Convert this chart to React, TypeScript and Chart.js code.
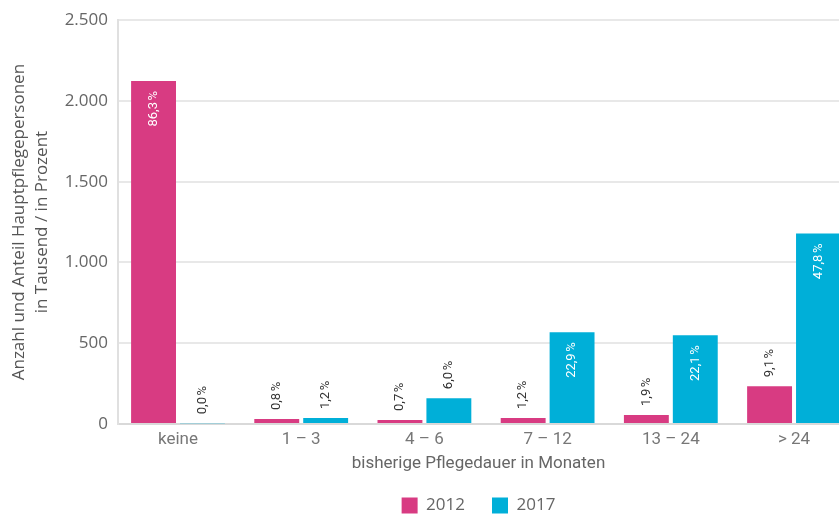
import React, { useEffect, useRef } from 'react';
import { Chart, registerables } from 'chart.js';

Chart.register(...registerables);

const categories = ['keine', '1 – 3', '4 – 6', '7 – 12', '13 – 24', '> 24'];
const seriesLabels = ['2012', '2017'];
const values2012 = [2124, 31, 25, 37, 56, 234];
const values2017 = [5, 37, 160, 568, 549, 1179];
const shares2012 = [86.3, 0.8, 0.7, 1.2, 1.9, 9.1];
const shares2017 = [0.0, 1.2, 6.0, 22.9, 22.1, 47.8];
const yTicks = [0, 500, 1000, 1500, 2000, 2500];
const yTitle = ['Anzahl und Anteil Hauptpflegepersonen', 'in Tausend / in Prozent'];
const xTitle = 'bisherige Pflegedauer in Monaten';

const colors = ['#d83b82', '#00afd8'];

const fmtThousands = (v: number) => String(v).replace(/\B(?=(\d{3})+(?!\d))/g, '.');

const shareLabels = {
  id: 'shareLabels',
  afterDatasetsDraw(chart: any) {
    const ctx = chart.ctx;
    const shares = [shares2012, shares2017];
    chart.data.datasets.forEach((_ds: any, di: number) => {
      const meta = chart.getDatasetMeta(di);
      meta.data.forEach((bar: any, i: number) => {
        const { x, y, base } = bar.getProps(['x', 'y', 'base'], true);
        if (x > chart.width) return;
        const inside = base - y > 60;
        const text = shares[di][i].toFixed(1).replace('.', ',') + '\u202F%';
        ctx.save();
        ctx.translate(x, inside ? y + 10 : y - 9);
        ctx.rotate(-Math.PI / 2);
        ctx.font = '13px Roboto';
        ctx.fillStyle = inside ? '#ffffff' : '#333333';
        ctx.textAlign = inside ? 'right' : 'left';
        ctx.textBaseline = 'middle';
        ctx.fillText(text, 0, 0);
        ctx.restore();
      });
    });
  },
};

export default function App() {
  const ref = useRef<HTMLCanvasElement | null>(null);

  useEffect(() => {
    if (!ref.current) return;
    const chart = new Chart(ref.current, {
      type: 'bar',
      data: {
        datasets: [values2012, values2017].map((vals, di) => ({
          label: seriesLabels[di],
          data: vals.map((v, i) => ({ x: i, y: v })),
          backgroundColor: colors[di],
          borderWidth: 0,
          categoryPercentage: 0.794,
          barPercentage: 0.918,
        })),
      },
      options: {
        responsive: false,
        animation: false,
        layout: { padding: { top: 19, left: 0, right: 0, bottom: 0 } },
        plugins: {
          tooltip: { enabled: false },
          legend: {
            position: 'bottom',
            fullSize: false,
            maxHeight: 46,
            labels: {
              boxWidth: 16,
              boxHeight: 16,
              padding: 27,
              color: '#666666',
              font: { family: 'Open Sans', size: 17 },
            },
          },
        },
        scales: {
          x: {
            type: 'linear',
            bounds: 'data',
            offset: false,
            min: -0.487,
            max: 5.365,
            grid: { display: false, drawTicks: false, offset: false },
            border: { display: false },
            afterBuildTicks: (s: any) => {
              s.ticks = categories.map((_c, i) => ({ value: i }));
            },
            ticks: {
              autoSkip: false,
              maxRotation: 0,
              padding: 6,
              color: '#777777',
              font: { family: 'Roboto', size: 17 },
              callback: (_v: any, index: number) => categories[index] ?? '',
            },
            title: {
              display: true,
              text: xTitle,
              color: '#666666',
              font: { family: 'Roboto', size: 17 },
              padding: { top: 0, bottom: -4 },
            },
            afterFit: (s: any) => {
              s.height = 46;
            },
          },
          y: {
            min: 0,
            max: 2500,
            afterBuildTicks: (s: any) => {
              s.ticks = yTicks.map((v) => ({ value: v }));
            },
            ticks: {
              padding: 10,
              color: '#666666',
              font: { family: 'Open Sans', size: 17 },
              callback: (v: any) => fmtThousands(Number(v)),
            },
            grid: {
              drawTicks: false,
              lineWidth: 2,
              color: (c: any) => (c.tick && c.tick.value === 0 ? '#d9d9d9' : '#e8e8e8'),
            },
            border: { display: true, color: '#e0e0e0', width: 2 },
            title: {
              display: true,
              text: yTitle,
              color: '#555555',
              font: { family: 'Open Sans', size: 17, lineHeight: 1.35 },
              padding: { top: 8, bottom: 0 },
            },
            afterFit: (s: any) => {
              s.width = 118;
            },
          },
        },
      } as any,
      plugins: [shareLabels],
    });
    return () => chart.destroy();
  }, []);

  return (
    <div style={{ position: 'absolute', left: 0, top: 0, width: 839, height: 516, overflow: 'hidden' }}>
      <canvas ref={ref} width={839} height={516} style={{ display: 'block' }} />
    </div>
  );
}
